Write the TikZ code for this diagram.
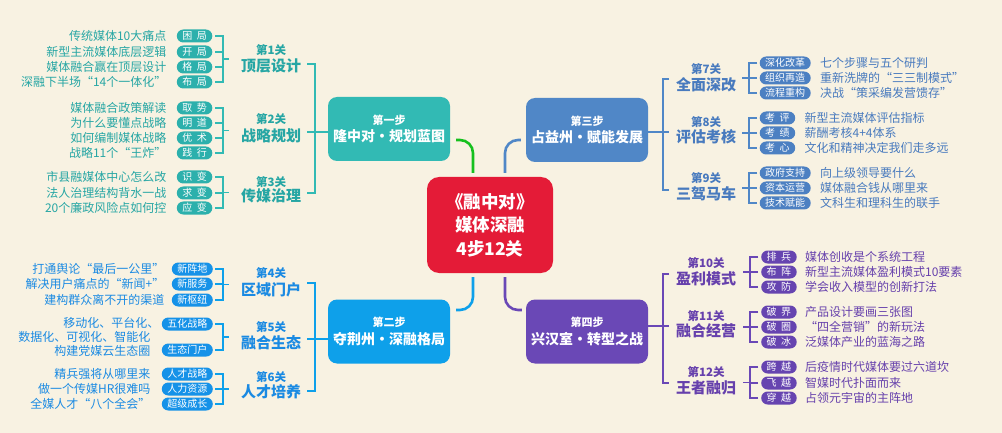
\documentclass[tikz,border=0pt]{standalone}
\usepackage{fontspec}
\setmainfont{Noto Sans CJK SC}
\usetikzlibrary{calc}
\definecolor{bgc}{RGB}{248,242,226}
\definecolor{cA}{RGB}{50,186,180}
\definecolor{tA}{RGB}{38,166,164}
\definecolor{pA}{RGB}{44,176,172}
\definecolor{cB}{RGB}{14,160,234}
\definecolor{tB}{RGB}{26,138,226}
\definecolor{pB}{RGB}{22,146,232}
\definecolor{cC}{RGB}{80,135,199}
\definecolor{tC}{RGB}{72,122,190}
\definecolor{pC}{RGB}{76,128,194}
\definecolor{cD}{RGB}{106,72,182}
\definecolor{tD}{RGB}{102,64,172}
\definecolor{pD}{RGB}{102,68,176}
\definecolor{cR}{RGB}{228,27,55}
\definecolor{cG}{RGB}{22,192,30}
\newcommand\kg{\hspace{0.45em}}
\begin{document}
\begin{tikzpicture}[x=1pt,y=-1pt,
  pill/.style={fill=#1,text=white,rounded corners=6.5pt,minimum height=13pt,inner sep=0pt,inner xsep=5.5pt,font=\fontsize{10}{10}\selectfont},
  itl/.style={text=#1,anchor=east,inner sep=0pt,font=\fontsize{12}{12}\selectfont},
  itr/.style={text=#1,anchor=west,inner sep=0pt,font=\fontsize{12}{12}\selectfont},
  gnum/.style={text=#1,inner sep=0pt,font=\bfseries\fontsize{11.5}{12}\selectfont},
  gtit/.style={text=#1,inner sep=0pt,font=\bfseries\fontsize{15}{15}\selectfont},
  brk/.style={draw=#1,line width=1.8pt},
  conn/.style={draw=#1,line width=2.6pt,rounded corners=13pt},
  stepbox/.style={fill=#1,rounded corners=9pt,minimum width=122pt,minimum height=64pt,text=white,align=center,inner sep=0pt}]
\fill[bgc] (0,0) rectangle (1002,433);
\useasboundingbox (0,0) rectangle (1002,433);

% centre and step boxes
\node[fill=cR,rounded corners=12pt,minimum width=126pt,minimum height=96pt,text=white,align=center,inner sep=0pt,font=\bfseries\fontsize{17.5}{23.5}\selectfont] (c) at (490,225) {《融中对》\\媒体深融\\4步12关};
\node[stepbox=cA] (s1) at (389,129) {{\bfseries\fontsize{11}{13}\selectfont 第一步}\\[3pt]{\bfseries\fontsize{14}{16}\selectfont 隆中对·规划蓝图}};
\node[stepbox=cB] (s2) at (389,331.5) {{\bfseries\fontsize{11}{13}\selectfont 第二步}\\[3pt]{\bfseries\fontsize{14}{16}\selectfont 夺荆州·深融格局}};
\node[stepbox=cC] (s3) at (587,130) {{\bfseries\fontsize{11}{13}\selectfont 第三步}\\[3pt]{\bfseries\fontsize{14}{16}\selectfont 占益州·赋能发展}};
\node[stepbox=cD] (s4) at (587,331.5) {{\bfseries\fontsize{11}{13}\selectfont 第四步}\\[3pt]{\bfseries\fontsize{14}{16}\selectfont 兴汉室·转型之战}};

\draw[conn=cG] ($(s1.east)+(6,11)$) -| ($(c.north)+(-17,-4)$);
\draw[conn=cC] ($(s3.west)+(-5,10)$) -| ($(c.north)+(15,-4)$);
\draw[conn=cB] ($(c.south)+(-17,4)$) |- ($(s2.east)+(6,-21.5)$);
\draw[conn=cD] ($(c.south)+(15,4)$) |- ($(s4.west)+(-4,-21.5)$);

% ---------- step 1 ----------
\node[gnum=tA] (n1) at (271,50) {第1关};
\node[gtit=tA] (g1) at (271,66) {顶层设计};
\node[gnum=tA] (n2) at (271,119) {第2关};
\node[gtit=tA] (g2) at (271,136) {战略规划};
\node[gnum=tA] (n3) at (271,182) {第3关};
\node[gtit=tA] (g3) at (271,196) {传媒治理};
\foreach \y/\tg/\tx [count=\i] in {36/困\kg 局/传统媒体10大痛点,52/开\kg 局/新型主流媒体底层逻辑,67/格\kg 局/媒体融合赢在顶层设计,82/布\kg 局/深融下半场“14个一体化”}{
  \node[pill=pA,anchor=east] (pa\i) at (212.5,\y) {\tg};
  \node[itl=tA] (ta\i) at ($(pa\i.west)+(-10,0)$) {\tx};
  \draw[brk=cA] ($(pa\i.east)+(2.5,0)$) -- ++(8,0);
}
\foreach \y/\tg/\tx [count=\i] in {108/取\kg 势/媒体融合政策解读,123/明\kg 道/为什么要懂点战略,138/优\kg 术/如何编制媒体战略,153/践\kg 行/战略11个“王炸”}{
  \node[pill=pA,anchor=east] (pb\i) at (212.5,\y) {\tg};
  \node[itl=tA] (tb\i) at ($(pb\i.west)+(-10,0)$) {\tx};
  \draw[brk=cA] ($(pb\i.east)+(2.5,0)$) -- ++(8,0);
}
\foreach \y/\tg/\tx [count=\i] in {177/识\kg 变/市县融媒体中心怎么改,193/求\kg 变/法人治理结构背水一战,208/应\kg 变/20个廉政风险点如何控}{
  \node[pill=pA,anchor=east] (pc\i) at (212.5,\y) {\tg};
  \node[itl=tA] (tc\i) at ($(pc\i.west)+(-10,0)$) {\tx};
  \draw[brk=cA] ($(pc\i.east)+(2.5,0)$) -- ++(8,0);
}
\draw[brk=cA] ($(pa1.east)+(2.5,0)$) -| ($(pa4.east)+(10.5,0)$) -- ($(pa4.east)+(2.5,0)$);
\draw[brk=cA] ($(pa1.east)!0.5!(pa4.east)+(10.5,0)$) -- ++(6,0);
\draw[brk=cA] ($(pb1.east)+(2.5,0)$) -| ($(pb4.east)+(10.5,0)$) -- ($(pb4.east)+(2.5,0)$);
\draw[brk=cA] ($(pb1.east)!0.5!(pb4.east)+(10.5,0)$) -- ++(6,0);
\draw[brk=cA] ($(pc1.east)+(2.5,0)$) -| ($(pc3.east)+(10.5,0)$) -- ($(pc3.east)+(2.5,0)$);
\draw[brk=cA] ($(pc1.east)!0.5!(pc3.east)+(10.5,0)$) -- ++(6,0);
\coordinate (ma1) at (307,64);
\coordinate (mb1) at (307,193);
\coordinate (mm1) at (307,132);
\draw[brk=cA] (ma1) -| ($(mb1)+(8,0)$) -- (mb1);
\draw[brk=cA] (mm1) -- (mm1 -| s1.west);

% ---------- step 2 ----------
\node[gnum=tB] (n4) at (271,273) {第4关};
\node[gtit=tB] (g4) at (271,290) {区域门户};
\node[gnum=tB] (n5) at (271,327) {第5关};
\node[gtit=tB] (g5) at (271,343) {融合生态};
\node[gnum=tB] (n6) at (271,377) {第6关};
\node[gtit=tB] (g6) at (271,392) {人才培养};
\foreach \y/\tg/\tx [count=\i] in {269/新阵地/打通舆论“最后一公里”,284/新服务/解决用户痛点的“新闻+”,300/新枢纽/建构群众离不开的渠道}{
  \node[pill=pB,anchor=east] (pd\i) at (213,\y) {\tg};
  \node[itl=tB] (td\i) at ($(pd\i.west)+(-7,0)$) {\tx};
  \draw[brk=cB] ($(pd\i.east)+(2,0)$) -- ++(8,0);
}
\node[pill=pB,anchor=east] (pe1) at (213,324) {五化战略};
\node[pill=pB,anchor=east] (pe2) at (213,350) {生态门户};
\node[itl=tB] (te3) at ($(pe2.west)+(-11,1)$) {构建党媒云生态圈};
\node[itl=tB] (te2) at ($(te3.east)+(0,-14)$) {数据化、可视化、智能化};
\node[itl=tB] (te1) at ($(pe1.west)+(-2,-1)$) {移动化、平台化、};
\draw[brk=cB] ($(pe1.east)+(2,0)$) -| ($(pe2.east)+(10,0)$) -- ($(pe2.east)+(2,0)$);
\draw[brk=cB] ($(pe1.east)!0.5!(pe2.east)+(10,0)$) -- ++(6,0);
\foreach \y/\tg/\tx [count=\i] in {374/人才战略/精兵强将从哪里来,389/人力资源/做一个传媒HR很难吗,404/超级成长/全媒人才“八个全会”}{
  \node[pill=pB,anchor=east] (pf\i) at (213,\y) {\tg};
  \node[itl=tB] (tf\i) at ($(pf\i.west)+(-11,0)$) {\tx};
  \draw[brk=cB] ($(pf\i.east)+(2,0)$) -- ++(8,0);
}
\draw[brk=cB] ($(pd1.east)+(2,0)$) -| ($(pd3.east)+(10,0)$) -- ($(pd3.east)+(2,0)$);
\draw[brk=cB] ($(pd1.east)!0.5!(pd3.east)+(10,0)$) -- ++(6,0);
\draw[brk=cB] ($(pf1.east)+(2,0)$) -| ($(pf3.east)+(10,0)$) -- ($(pf3.east)+(2,0)$);
\draw[brk=cB] ($(pf1.east)!0.5!(pf3.east)+(10,0)$) -- ++(6,0);
\coordinate (ma2) at (307,283);
\coordinate (mb2) at (307,391);
\coordinate (mm2) at (307,339);
\draw[brk=cB] (ma2) -| ($(mb2)+(8,0)$) -- (mb2);
\draw[brk=cB] (mm2) -- (mm2 -| s2.west);

% ---------- step 3 ----------
\node[gnum=tC] (n7) at (706,69) {第7关};
\node[gtit=tC] (g7) at (706,85) {全面深改};
\node[gnum=tC] (n8) at (706,122) {第8关};
\node[gtit=tC] (g8) at (706,137) {评估考核};
\node[gnum=tC] (n9) at (706,178) {第9关};
\node[gtit=tC] (g9) at (706,194) {三驾马车};
\foreach \y/\tg/\tx [count=\i] in {63/深化改革/七个步骤与五个研判,78/组织再造/重新洗牌的“三三制模式”,93/流程重构/决战“策采编发营馈存”}{
  \node[pill=pC,anchor=west] (pg\i) at (759.5,\y) {\tg};
  \node[itr=tC] (tg\i) at ($(pg\i.east)+(9,0)$) {\tx};
  \draw[brk=cC] ($(pg\i.west)+(-2.5,0)$) -- ++(-8,0);
}
\foreach \y/\tg/\tx [count=\i] in {118/考\kg 评/新型主流媒体评估指标,133/考\kg 绩/薪酬考核4+4体系,148/考\kg 心/文化和精神决定我们走多远}{
  \node[pill=pC,anchor=west] (ph\i) at (759.5,\y) {\tg};
  \node[itr=tC] (th\i) at ($(ph\i.east)+(9,0)$) {\tx};
  \draw[brk=cC] ($(ph\i.west)+(-2.5,0)$) -- ++(-8,0);
}
\foreach \y/\tg/\tx [count=\i] in {173/政府支持/向上级领导要什么,188/资本运营/媒体融合钱从哪里来,203/技术赋能/文科生和理科生的联手}{
  \node[pill=pC,anchor=west] (pi\i) at (759.5,\y) {\tg};
  \node[itr=tC] (ti\i) at ($(pi\i.east)+(9,0)$) {\tx};
  \draw[brk=cC] ($(pi\i.west)+(-2.5,0)$) -- ++(-8,0);
}
\draw[brk=cC] ($(pg1.west)+(-2.5,0)$) -| ($(pg3.west)+(-10.5,0)$) -- ($(pg3.west)+(-2.5,0)$);
\draw[brk=cC] ($(pg1.west)!0.5!(pg3.west)+(-10.5,0)$) -- ++(-7,0);
\draw[brk=cC] ($(ph1.west)+(-2.5,0)$) -| ($(ph3.west)+(-10.5,0)$) -- ($(ph3.west)+(-2.5,0)$);
\draw[brk=cC] ($(ph1.west)!0.5!(ph3.west)+(-10.5,0)$) -- ++(-7,0);
\draw[brk=cC] ($(pi1.west)+(-2.5,0)$) -| ($(pi3.west)+(-10.5,0)$) -- ($(pi3.west)+(-2.5,0)$);
\draw[brk=cC] ($(pi1.west)!0.5!(pi3.west)+(-10.5,0)$) -- ++(-7,0);
\coordinate (ma3) at (669,79);
\coordinate (mb3) at (669,190);
\coordinate (mm3) at (669,132);
\draw[brk=cC] (ma3) -| ($(mb3)+(-6,0)$) -- (mb3);
\draw[brk=cC] (mm3 -| s3.east) -- (mm3);

% ---------- step 4 ----------
\node[gnum=tD] (n10) at (706,263) {第10关};
\node[gtit=tD] (g10) at (706,279) {盈利模式};
\node[gnum=tD] (n11) at (706,316) {第11关};
\node[gtit=tD] (g11) at (706,331) {融合经营};
\node[gnum=tD] (n12) at (706,372) {第12关};
\node[gtit=tD] (g12) at (706,388) {王者融归};
\foreach \y/\tg/\tx [count=\i] in {257/排\kg 兵/媒体创收是个系统工程,272/布\kg 阵/新型主流媒体盈利模式10要素,287/攻\kg 防/学会收入模型的创新打法}{
  \node[pill=pD,anchor=west] (pj\i) at (761,\y) {\tg};
  \node[itr=tD] (tj\i) at ($(pj\i.east)+(8,0)$) {\tx};
  \draw[brk=cD] ($(pj\i.west)+(-3,0)$) -- ++(-8,0);
}
\foreach \y/\tg/\tx [count=\i] in {312/破\kg 界/产品设计要画三张图,327/破\kg 圈/“四全营销”的新玩法,342/破\kg 冰/泛媒体产业的蓝海之路}{
  \node[pill=pD,anchor=west] (pk\i) at (761,\y) {\tg};
  \node[itr=tD] (tk\i) at ($(pk\i.east)+(8,0)$) {\tx};
  \draw[brk=cD] ($(pk\i.west)+(-3,0)$) -- ++(-8,0);
}
\foreach \y/\tg/\tx [count=\i] in {367/跨\kg 越/后疫情时代媒体要过六道坎,383/飞\kg 越/智媒时代扑面而来,398/穿\kg 越/占领元宇宙的主阵地}{
  \node[pill=pD,anchor=west] (pl\i) at (761,\y) {\tg};
  \node[itr=tD] (tl\i) at ($(pl\i.east)+(8,0)$) {\tx};
  \draw[brk=cD] ($(pl\i.west)+(-3,0)$) -- ++(-8,0);
}
\draw[brk=cD] ($(pj1.west)+(-3,0)$) -| ($(pj3.west)+(-11,0)$) -- ($(pj3.west)+(-3,0)$);
\draw[brk=cD] ($(pj1.west)!0.5!(pj3.west)+(-11,0)$) -- ++(-7,0);
\draw[brk=cD] ($(pk1.west)+(-3,0)$) -| ($(pk3.west)+(-11,0)$) -- ($(pk3.west)+(-3,0)$);
\draw[brk=cD] ($(pk1.west)!0.5!(pk3.west)+(-11,0)$) -- ++(-7,0);
\draw[brk=cD] ($(pl1.west)+(-3,0)$) -| ($(pl3.west)+(-11,0)$) -- ($(pl3.west)+(-3,0)$);
\draw[brk=cD] ($(pl1.west)!0.5!(pl3.west)+(-11,0)$) -- ++(-7,0);
\coordinate (ma4) at (669,274);
\coordinate (mb4) at (669,383);
\coordinate (mm4) at (669,326);
\draw[brk=cD] (ma4) -| ($(mb4)+(-6,0)$) -- (mb4);
\draw[brk=cD] (mm4 -| s4.east) -- (mm4);
\end{tikzpicture}
\end{document}
